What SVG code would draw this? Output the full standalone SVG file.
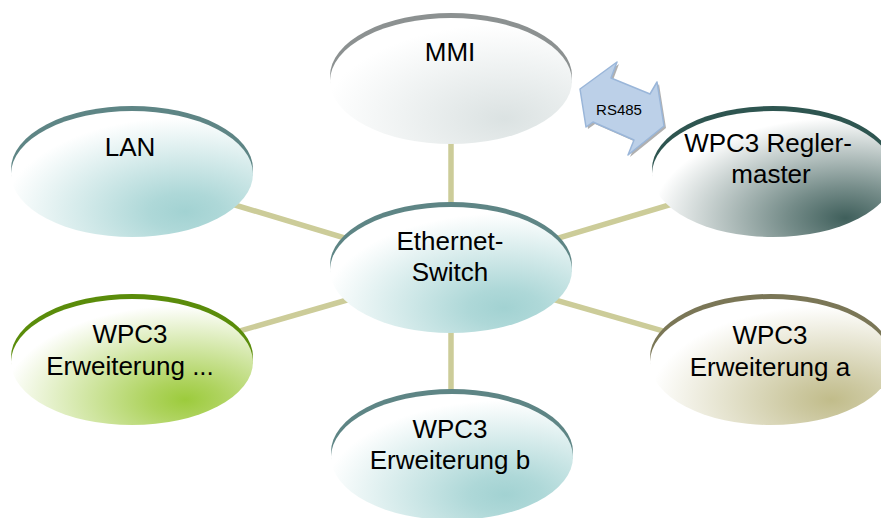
<svg xmlns="http://www.w3.org/2000/svg" width="881" height="518" viewBox="0 0 881 518">
<defs>
<radialGradient id="gGray" cx="0.72" cy="0.8" r="0.75"><stop offset="0" stop-color="#dbe2e2"/><stop offset="1" stop-color="#ffffff"/></radialGradient>
<radialGradient id="gTeal" cx="0.72" cy="0.8" r="0.75"><stop offset="0" stop-color="#a2d2d2"/><stop offset="0.2" stop-color="#aed8d8"/><stop offset="1" stop-color="#ffffff"/></radialGradient>
<radialGradient id="gDark" cx="0.8" cy="0.85" r="0.8"><stop offset="0" stop-color="#3f5f5b"/><stop offset="0.3" stop-color="#758c89"/><stop offset="1" stop-color="#ffffff"/></radialGradient>
<radialGradient id="gGreen" cx="0.72" cy="0.8" r="0.75"><stop offset="0" stop-color="#9ccb3c"/><stop offset="0.2" stop-color="#aed35e"/><stop offset="1" stop-color="#ffffff"/></radialGradient>
<radialGradient id="gOlive" cx="0.75" cy="0.8" r="0.75"><stop offset="0" stop-color="#c1bc8a"/><stop offset="0.2" stop-color="#ccc8a0"/><stop offset="1" stop-color="#ffffff"/></radialGradient>
</defs>
<style>
.lbl{font-family:"Liberation Sans",Arial,sans-serif;font-size:26px;fill:#000;text-anchor:middle}
.con{stroke:#cccc99;stroke-width:5.5;fill:none}
</style>
<g id="connectors">
<line class="con" x1="451" y1="81" x2="451" y2="270"/>
<line class="con" x1="451" y1="270" x2="451" y2="457"/>
<line class="con" x1="132" y1="174" x2="451" y2="270"/>
<line class="con" x1="773" y1="174" x2="451" y2="270"/>
<line class="con" x1="132" y1="362" x2="451" y2="270"/>
<line class="con" x1="771" y1="362" x2="451" y2="270"/>
</g>
<g id="mmi">
<ellipse cx="451" cy="76" rx="121" ry="63" fill="#8c9191"/>
<ellipse cx="451" cy="81" rx="121" ry="63" fill="url(#gGray)"/>
<text class="lbl" x="450" y="61">MMI</text>
</g>
<g id="lan">
<ellipse cx="132" cy="169" rx="121" ry="63" fill="#5e8585"/>
<ellipse cx="132" cy="174" rx="121" ry="63" fill="url(#gTeal)"/>
<text class="lbl" x="130" y="156">LAN</text>
</g>
<g id="switch">
<ellipse cx="451" cy="265" rx="121" ry="63" fill="#5e8585"/>
<ellipse cx="451" cy="270" rx="121" ry="63" fill="url(#gTeal)"/>
<text class="lbl" x="450" y="250">Ethernet-</text>
<text class="lbl" x="450" y="281">Switch</text>
</g>
<g id="reglermaster">
<ellipse cx="773" cy="169" rx="121" ry="63" fill="#2e5550"/>
<ellipse cx="773" cy="174" rx="121" ry="63" fill="url(#gDark)"/>
<text class="lbl" x="768" y="152">WPC3 Regler-</text>
<text class="lbl" x="771" y="183">master</text>
</g>
<g id="erw-dots">
<ellipse cx="132" cy="357" rx="121" ry="63" fill="#5a8c0a"/>
<ellipse cx="132" cy="362" rx="121" ry="63" fill="url(#gGreen)"/>
<text class="lbl" x="130" y="343">WPC3</text>
<text class="lbl" x="130" y="375">Erweiterung ...</text>
</g>
<g id="erw-a">
<ellipse cx="771" cy="357" rx="121" ry="63" fill="#7a7656"/>
<ellipse cx="771" cy="362" rx="121" ry="63" fill="url(#gOlive)"/>
<text class="lbl" x="770" y="344">WPC3</text>
<text class="lbl" x="770" y="376">Erweiterung a</text>
</g>
<g id="erw-b">
<ellipse cx="452" cy="452" rx="121" ry="63" fill="#5e8585"/>
<ellipse cx="452" cy="457" rx="121" ry="63" fill="url(#gTeal)"/>
<text class="lbl" x="450" y="438">WPC3</text>
<text class="lbl" x="450" y="469">Erweiterung b</text>
</g>
<g id="rs485">
<polygon points="619,64 613,80 652,96 659,84 666,128 630,157 636,142 595,124 588,129 582,91" fill="#8e8e8e" opacity="0.7"/>
<polygon points="617,62 611,78 650,94 657,82 664,126 628,155 634,140 593,122 586,127 580,89" fill="#bcd0e8" stroke="#9ab6d9" stroke-width="1.5" stroke-linejoin="round"/>
<text x="619" y="115" font-family="Liberation Sans, Arial, sans-serif" font-size="15" text-anchor="middle" fill="#000">RS485</text>
</g>
</svg>
